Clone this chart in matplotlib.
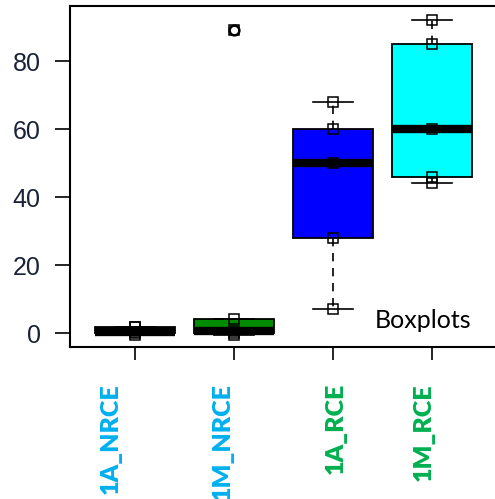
import matplotlib.pyplot as plt

# values per group
groups = ['1A_NRCE', '1M_NRCE', '1A_RCE', '1M_RCE']
vals_1a_nrce = [-0.5, 0, 0.3, 1.7, 1.8]
vals_1m_nrce = [-0.5, 0, 0.5, 4, 89]
vals_1a_rce = [7, 28, 50, 60, 68]
vals_1m_rce = [44, 46, 60, 85, 92]
box_colors = ['black', '#008B00', '#0000FF', '#00FFFF']
label_colors = ['#00B0F0', '#00B0F0', '#00B050', '#00B050']
yticks = [0, 20, 40, 60, 80]

data = [vals_1a_nrce, vals_1m_nrce, vals_1a_rce, vals_1m_rce]

W, H = 495, 499
fig = plt.figure(figsize=(W / 100, H / 100), dpi=100)
# axes runs off the right edge like in the cropped original
ax = fig.add_axes([70 / W, 152 / H, 435 / W, 341 / H])

bp = ax.boxplot(data, positions=[1, 2, 3, 4], widths=0.8, patch_artist=True,
                capwidths=0.4,
                boxprops=dict(edgecolor='black', linewidth=1.3),
                medianprops=dict(color='black', linewidth=6, solid_capstyle='butt'),
                whiskerprops=dict(color='black', linewidth=1.2, linestyle=(0, (5, 4))),
                capprops=dict(color='black', linewidth=1.2),
                flierprops=dict(marker='o', markerfacecolor='none', markeredgecolor='black',
                                markersize=7, markeredgewidth=1.8))
for patch, c in zip(bp['boxes'], box_colors):
    patch.set_facecolor(c)

# raw points on top of the boxes
for i, vals in enumerate(data):
    ax.plot([i + 1] * len(vals), vals, linestyle='none', marker='s', markersize=7,
            markerfacecolor='none', markeredgecolor='black', markeredgewidth=1.1, zorder=5)

ax.set_xlim(0.343, 4.737)
ax.set_ylim(-4.1, 96.2)
ax.set_yticks(yticks)
ax.set_yticklabels([str(t) for t in yticks], fontsize=18, family='Liberation Sans', color='#1A2238')
ax.set_xticks([1, 2, 3, 4])
ax.set_xticklabels([])
ax.tick_params(axis='y', length=11, width=1.2, pad=10)
ax.tick_params(axis='x', length=9.5, width=1.2)
for s in ax.spines.values():
    s.set_linewidth(1.5)
ax.spines['right'].set_visible(False)

ax.text(375 / W, 1 - 328 / H, 'Boxplots', transform=fig.transFigure, fontsize=18,
        family='Lato', ha='left', va='baseline')

label_x = [111, 223, 336, 424]
for lx, name, c in zip(label_x, groups, label_colors):
    fig.text(lx / W, 1 - 383 / H, name, rotation=90, ha='center', va='top',
             fontsize=18, fontweight='heavy', family='Lato', color=c)

fig.savefig('out.png', dpi=100)
